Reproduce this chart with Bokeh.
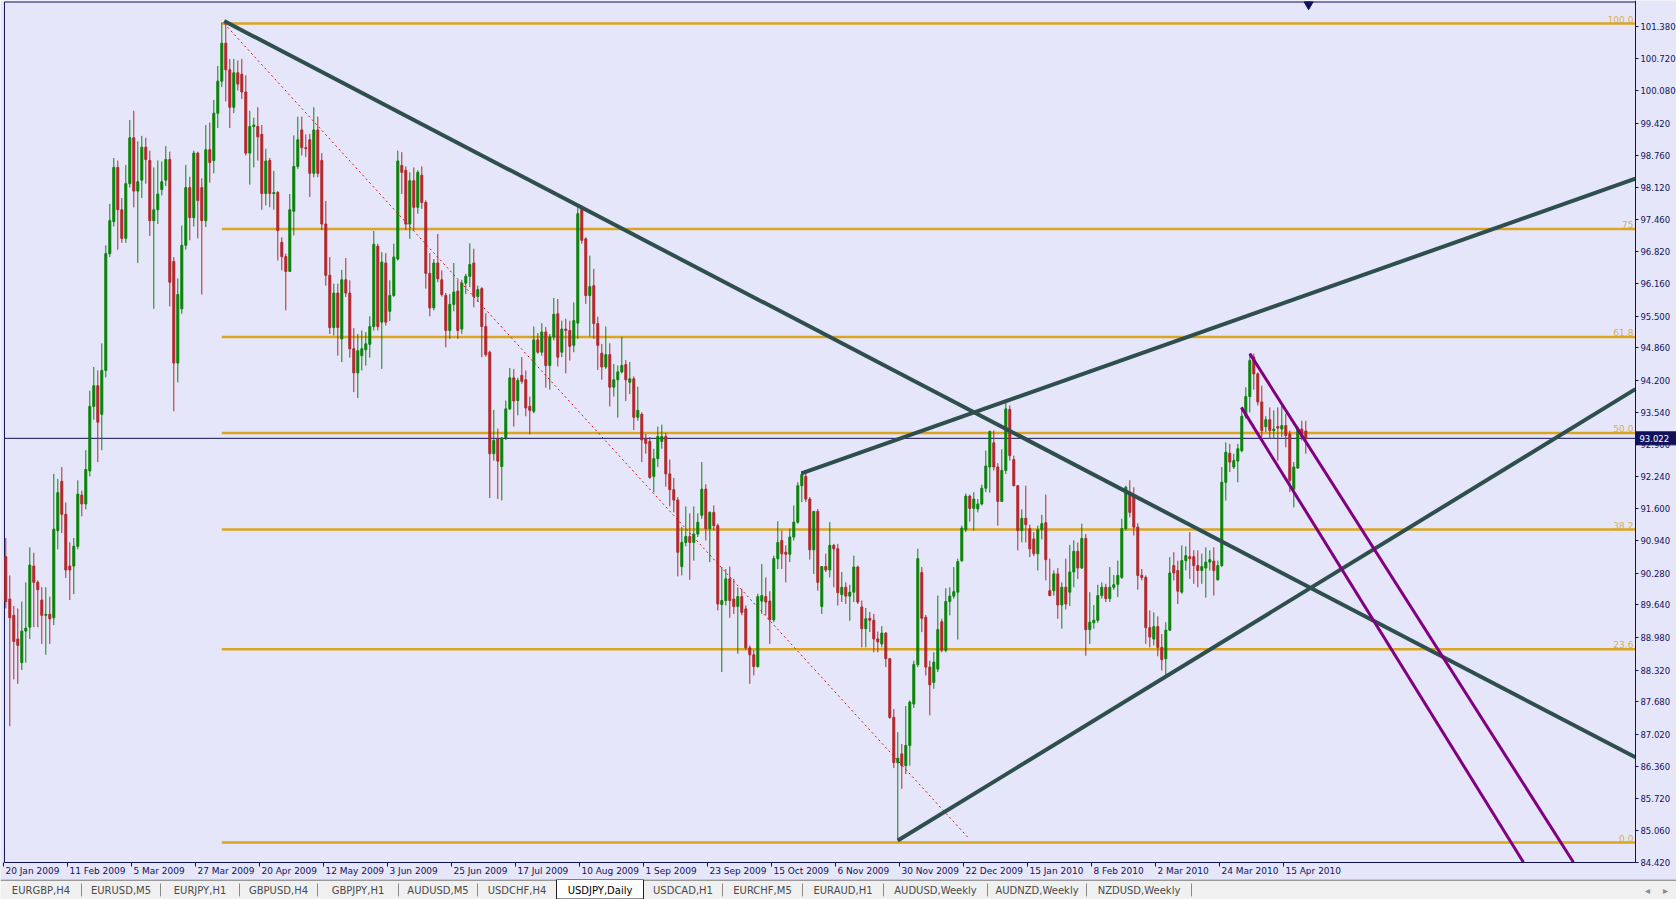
import numpy as np
from bokeh.plotting import figure
from bokeh.models import Range1d, FixedTicker, PrintfTickFormatter, ColumnDataSource
from bokeh.layouts import column
from bokeh.embed import file_html
from bokeh.resources import INLINE
from bokeh.core.properties import value

# ---------------- data (USDJPY, Daily) ----------------
opens = [
    90.62, 89.76, 89.43, 88.95, 88.47, 89.11, 89.19, 90.43, 90.10, 89.74,
    89.43, 89.45, 89.38, 91.15, 92.15, 91.48, 90.43, 90.43, 90.83, 91.87,
    91.69, 92.36, 93.67, 94.09, 93.51, 94.40, 96.77, 97.42, 98.52, 97.66,
    97.08, 98.19, 99.12, 98.04, 98.26, 98.93, 98.66, 97.44, 97.66, 98.07,
    98.26, 98.68, 96.61, 94.55, 95.65, 96.94, 98.11, 97.50, 98.81, 98.11,
    97.44, 98.88, 98.66, 99.62, 100.27, 101.04, 100.50, 99.74, 100.44, 100.41,
    100.05, 98.81, 99.35, 99.35, 99.19, 97.99, 98.66, 97.99, 98.01, 97.00,
    96.71, 96.41, 97.63, 98.54, 99.28, 98.92, 99.08, 98.40, 99.28, 98.66,
    97.37, 96.33, 95.27, 95.97, 95.04, 96.24, 95.97, 94.84, 94.35, 94.70,
    94.82, 94.93, 95.29, 96.92, 95.38, 96.58, 95.60, 95.92, 96.66, 98.56,
    98.46, 97.37, 98.25, 97.71, 98.36, 97.81, 96.37, 95.67, 96.58, 96.24,
    95.92, 95.21, 95.74, 96.01, 95.24, 96.17, 96.31, 96.58, 95.90, 96.06,
    95.29, 94.77, 92.71, 93.01, 92.45, 93.03, 93.62, 94.25, 93.79, 94.30,
    94.21, 93.67, 93.57, 95.02, 94.77, 95.18, 94.50, 95.08, 95.55, 94.77,
    95.24, 95.21, 94.91, 95.36, 97.71, 97.07, 95.92, 96.12, 95.35, 94.75,
    94.47, 94.72, 94.06, 94.21, 94.37, 94.52, 94.16, 94.23, 93.45, 93.51,
    93.01, 92.96, 92.25, 92.61, 92.96, 93.06, 92.30, 91.98, 91.77, 90.42,
    90.91, 91.03, 90.91, 91.08, 91.46, 91.99, 91.19, 91.52, 91.25, 89.65,
    89.73, 90.17, 89.76, 89.61, 89.81, 89.56, 88.77, 88.63, 88.39, 89.72,
    89.81, 89.72, 89.34, 90.58, 90.95, 90.71, 90.67, 91.02, 91.32, 92.06,
    92.25, 91.79, 90.76, 91.54, 89.61, 90.42, 90.35, 90.85, 90.78, 89.85,
    90.00, 89.82, 89.90, 90.41, 89.60, 89.16, 89.37, 89.33, 88.95, 88.85,
    89.07, 88.55, 87.36, 86.44, 86.62, 86.38, 86.79, 87.63, 88.43, 90.30,
    89.39, 88.38, 88.07, 88.34, 89.30, 88.72, 89.71, 89.82, 89.90, 90.54,
    91.17, 91.85, 91.60, 91.59, 91.69, 92.01, 92.44, 92.93, 92.44, 91.74,
    92.37, 93.61, 92.59, 92.06, 91.15, 91.40, 91.19, 90.98, 90.68, 91.17,
    91.31, 89.93, 89.93, 90.27, 89.64, 90.00, 89.90, 90.31, 90.73, 90.39,
    90.99, 89.14, 89.28, 89.33, 89.83, 90.00, 89.77, 90.00, 90.06, 90.20,
    91.19, 91.93, 91.86, 91.22, 90.24, 90.20, 89.18, 88.95, 89.20, 88.78,
    88.55, 89.13, 90.44, 90.34, 89.90, 90.54, 90.62, 90.62, 90.44, 90.34,
    90.39, 90.51, 90.53, 90.15, 90.44, 92.13, 92.72, 92.44, 92.56, 92.77,
    93.47, 93.87, 94.67, 94.33, 93.76, 93.26, 93.40, 93.18, 93.26, 93.21,
    93.28, 93.11, 91.99, 92.42, 93.21, 93.17,
]
highs = [
    91.00, 90.24, 89.62, 89.57, 89.71, 90.10, 90.81, 90.70, 90.14, 90.00,
    90.00, 89.81, 92.30, 92.20, 92.44, 91.72, 90.91, 91.00, 92.17, 91.96,
    92.78, 93.99, 94.47, 94.40, 94.95, 96.94, 97.78, 98.71, 98.66, 97.90,
    98.57, 99.48, 99.67, 99.05, 99.16, 99.12, 98.86, 98.52, 98.66, 98.64,
    98.95, 98.84, 96.70, 96.27, 97.34, 98.57, 98.33, 98.86, 98.84, 98.30,
    99.38, 99.43, 99.89, 100.58, 101.46, 101.44, 100.72, 100.72, 100.69, 100.72,
    100.39, 99.67, 99.53, 99.74, 99.38, 98.90, 98.71, 98.45, 98.04, 97.10,
    96.77, 97.98, 99.17, 99.55, 99.55, 99.19, 99.20, 99.74, 99.55, 98.81,
    97.84, 96.70, 96.16, 96.16, 96.44, 96.68, 96.23, 95.26, 95.14, 95.21,
    95.18, 95.50, 97.23, 96.97, 96.80, 96.78, 96.23, 96.97, 98.86, 98.83,
    98.54, 98.42, 98.52, 98.46, 98.54, 97.85, 96.78, 96.66, 97.17, 96.43,
    95.97, 95.95, 96.58, 96.24, 96.24, 96.36, 96.98, 96.87, 96.12, 96.09,
    95.56, 94.80, 93.60, 93.22, 93.05, 93.79, 94.45, 94.43, 94.25, 94.67,
    94.40, 93.87, 95.29, 95.16, 95.36, 95.28, 95.14, 95.87, 95.85, 95.41,
    95.45, 95.41, 95.78, 97.73, 97.75, 97.10, 96.73, 96.46, 95.49, 94.94,
    95.29, 94.95, 94.53, 94.50, 95.08, 94.61, 94.57, 94.28, 94.07, 93.55,
    93.11, 93.05, 92.81, 93.26, 93.30, 93.13, 92.59, 92.22, 91.83, 91.22,
    91.64, 91.50, 91.64, 91.50, 92.54, 92.09, 91.54, 91.66, 91.29, 90.41,
    90.37, 90.42, 90.17, 90.00, 89.97, 89.63, 88.82, 88.73, 89.87, 90.47,
    90.20, 89.92, 90.64, 91.34, 91.15, 90.85, 91.19, 91.66, 92.13, 92.34,
    92.34, 91.83, 91.54, 91.59, 90.42, 90.68, 91.32, 90.88, 90.88, 90.31,
    90.10, 90.05, 90.64, 90.44, 89.73, 89.58, 89.50, 89.46, 89.10, 89.21,
    89.09, 88.56, 87.53, 87.06, 86.82, 87.59, 87.70, 88.51, 90.78, 90.41,
    89.44, 88.51, 88.68, 89.83, 89.36, 89.98, 90.00, 90.41, 90.58, 91.25,
    91.90, 91.88, 91.93, 91.79, 92.08, 92.77, 93.18, 93.18, 92.52, 92.80,
    93.79, 93.69, 92.67, 92.06, 91.58, 92.06, 91.27, 91.12, 91.25, 91.47,
    91.88, 90.58, 90.34, 90.39, 90.10, 90.58, 90.86, 90.95, 90.91, 91.29,
    91.08, 89.90, 89.64, 90.05, 90.10, 90.07, 90.41, 90.25, 90.54, 91.39,
    92.06, 92.17, 92.03, 91.30, 90.37, 90.24, 89.53, 89.49, 89.41, 89.05,
    89.29, 90.61, 90.71, 90.54, 90.85, 90.83, 91.12, 90.75, 90.75, 90.68,
    90.81, 90.75, 90.81, 90.54, 92.44, 92.94, 92.91, 92.71, 92.91, 93.65,
    94.06, 94.74, 94.74, 94.36, 94.09, 93.47, 93.65, 93.59, 93.65, 93.69,
    93.52, 93.18, 92.54, 93.26, 93.38, 93.38,
]
lows = [
    89.57, 87.18, 88.13, 88.04, 88.32, 88.47, 88.95, 89.19, 89.19, 88.85,
    88.63, 88.85, 89.23, 90.77, 91.10, 90.19, 89.74, 89.86, 90.77, 91.44,
    91.58, 92.25, 93.40, 92.54, 92.78, 94.26, 96.70, 97.32, 96.85, 96.99,
    96.99, 98.11, 97.71, 96.58, 97.90, 98.19, 97.13, 95.65, 97.37, 97.95,
    98.14, 95.70, 93.57, 94.16, 95.55, 96.85, 97.04, 97.32, 97.08, 95.94,
    97.31, 98.21, 98.40, 99.32, 100.15, 99.86, 99.32, 99.62, 100.08, 99.91,
    98.76, 98.17, 98.52, 98.66, 97.66, 97.75, 97.71, 97.66, 96.63, 96.43,
    95.62, 96.40, 97.14, 98.49, 98.76, 98.73, 97.92, 98.32, 98.32, 97.25,
    96.12, 95.14, 95.11, 94.70, 94.57, 95.89, 94.66, 93.96, 93.84, 94.40,
    94.50, 94.66, 95.21, 95.21, 94.43, 95.31, 95.40, 95.89, 96.63, 97.98,
    97.25, 97.07, 97.24, 97.58, 97.68, 96.06, 95.50, 95.62, 96.19, 95.90,
    94.87, 95.04, 95.60, 95.04, 95.14, 95.95, 96.09, 95.68, 95.79, 94.67,
    94.68, 91.81, 92.57, 91.79, 91.76, 92.99, 93.60, 93.26, 93.49, 94.13,
    93.47, 93.10, 93.53, 94.74, 94.70, 94.05, 94.01, 95.01, 94.48, 94.67,
    94.34, 94.60, 94.77, 95.04, 96.97, 95.75, 95.09, 95.04, 94.41, 94.21,
    94.43, 93.67, 93.87, 93.44, 94.34, 93.78, 93.92, 93.19, 93.38, 92.54,
    92.71, 92.20, 91.93, 92.44, 92.81, 92.04, 91.64, 91.52, 90.22, 90.24,
    90.83, 90.15, 90.54, 91.02, 91.39, 90.95, 90.51, 91.15, 89.53, 88.28,
    89.63, 89.38, 89.46, 88.65, 89.43, 88.73, 88.04, 88.21, 88.37, 89.46,
    89.43, 88.85, 89.29, 90.37, 90.37, 90.10, 90.51, 90.95, 91.29, 91.73,
    91.73, 90.56, 90.27, 89.93, 89.46, 90.31, 90.20, 90.00, 89.63, 89.70,
    89.66, 89.32, 89.70, 89.66, 88.78, 88.78, 89.09, 88.68, 88.68, 88.78,
    88.38, 87.33, 86.33, 84.86, 85.91, 86.21, 86.38, 87.55, 88.38, 89.09,
    88.21, 87.40, 87.94, 88.28, 88.68, 88.68, 89.43, 89.77, 88.94, 90.51,
    91.12, 91.33, 91.15, 91.52, 91.66, 91.93, 91.92, 92.37, 91.25, 91.73,
    92.30, 92.57, 92.05, 90.75, 90.91, 90.91, 90.61, 90.63, 90.34, 90.97,
    90.14, 89.82, 89.83, 89.36, 89.16, 89.55, 89.62, 90.00, 90.17, 90.37,
    88.61, 88.85, 89.16, 89.28, 89.77, 89.70, 89.70, 89.95, 89.80, 90.17,
    91.15, 91.42, 91.05, 89.95, 90.14, 88.85, 88.78, 88.82, 88.60, 88.31,
    88.21, 89.11, 90.14, 89.66, 89.87, 90.34, 90.17, 90.07, 90.00, 90.07,
    89.79, 90.34, 89.83, 90.14, 90.41, 91.76, 92.34, 92.40, 92.13, 92.74,
    93.42, 93.55, 94.01, 93.69, 93.05, 93.15, 93.01, 93.01, 92.57, 93.05,
    92.84, 91.93, 91.62, 92.40, 92.98, 92.71,
]
closes = [
    89.71, 89.38, 88.90, 88.82, 89.11, 89.17, 90.45, 90.10, 89.95, 89.43,
    89.45, 89.36, 91.18, 91.92, 91.48, 90.35, 90.35, 90.83, 91.89, 91.69,
    92.39, 93.67, 94.09, 93.35, 94.40, 96.77, 97.44, 98.52, 97.66, 97.08,
    98.19, 99.12, 98.04, 98.23, 98.93, 98.68, 97.44, 97.66, 97.98, 98.23,
    98.68, 96.19, 94.55, 95.94, 96.94, 98.11, 97.50, 98.81, 97.85, 97.44,
    98.88, 98.62, 99.62, 100.27, 101.04, 100.50, 99.74, 100.44, 100.21, 100.05,
    98.81, 99.35, 99.38, 99.14, 97.99, 98.65, 97.99, 98.01, 97.24, 96.71,
    96.41, 97.66, 98.54, 99.08, 98.92, 98.90, 98.40, 99.28, 98.40, 97.37,
    96.33, 95.27, 95.97, 95.27, 96.24, 95.97, 94.84, 94.35, 94.80, 94.84,
    94.94, 95.29, 96.96, 95.29, 96.60, 95.38, 95.92, 96.70, 98.65, 98.42,
    97.37, 98.25, 97.71, 98.42, 97.81, 96.37, 95.67, 96.58, 96.26, 95.94,
    95.21, 95.74, 95.99, 95.21, 96.17, 96.31, 96.55, 95.90, 96.04, 95.29,
    94.72, 92.71, 92.98, 92.56, 93.03, 93.62, 94.25, 93.78, 94.20, 94.18,
    93.64, 93.59, 95.02, 94.77, 95.18, 94.50, 95.08, 95.54, 94.67, 95.24,
    95.21, 94.89, 95.41, 97.58, 97.04, 95.92, 96.10, 95.35, 94.91, 94.47,
    94.72, 94.06, 94.21, 94.37, 94.50, 94.21, 94.23, 93.45, 93.59, 92.99,
    92.92, 92.23, 92.61, 93.06, 93.06, 92.30, 91.98, 91.77, 90.71, 90.91,
    91.03, 90.91, 91.08, 91.32, 91.99, 91.19, 91.52, 91.25, 89.66, 89.73,
    90.17, 89.73, 89.61, 89.81, 89.49, 88.77, 88.63, 88.39, 89.81, 89.83,
    89.70, 89.34, 90.58, 90.91, 90.68, 90.67, 91.02, 91.32, 92.06, 92.29,
    91.79, 90.76, 91.54, 90.10, 90.42, 90.35, 90.85, 90.78, 89.89, 90.00,
    89.82, 89.90, 90.41, 89.70, 89.16, 89.36, 89.33, 88.95, 88.89, 89.07,
    88.55, 87.36, 86.44, 86.53, 86.38, 86.79, 87.67, 88.43, 90.58, 89.37,
    88.38, 88.02, 88.48, 89.14, 88.72, 89.71, 89.82, 89.91, 90.52, 91.20,
    91.85, 91.60, 91.79, 91.69, 92.01, 92.46, 93.16, 92.44, 91.74, 92.37,
    93.62, 92.67, 92.06, 91.15, 91.40, 91.27, 90.78, 90.68, 91.17, 91.29,
    90.56, 89.83, 90.27, 89.64, 90.00, 89.66, 90.31, 90.73, 90.39, 90.99,
    89.14, 89.29, 89.33, 89.83, 90.00, 89.77, 90.00, 90.05, 90.24, 91.19,
    92.03, 91.52, 91.22, 90.24, 90.20, 89.18, 88.99, 89.20, 88.78, 88.53,
    89.13, 90.29, 90.29, 89.92, 90.54, 90.64, 90.58, 90.44, 90.34, 90.42,
    90.51, 90.56, 90.34, 90.44, 92.13, 92.74, 92.54, 92.57, 92.81, 93.47,
    93.87, 94.60, 94.33, 93.76, 93.18, 93.40, 93.18, 93.21, 93.23, 93.28,
    93.08, 92.17, 92.44, 93.23, 93.05, 93.022,
]
assert len(opens) == len(highs) == len(lows) == len(closes) == 326

date_idx = [0, 16, 32, 48, 64, 80, 96, 112, 128, 144, 160, 176, 192, 208, 224, 240, 256, 272, 288, 304, 320]
date_labels = ["20 Jan 2009", "11 Feb 2009", "5 Mar 2009", "27 Mar 2009", "20 Apr 2009",
               "12 May 2009", "3 Jun 2009", "25 Jun 2009", "17 Jul 2009", "10 Aug 2009",
               "1 Sep 2009", "23 Sep 2009", "15 Oct 2009", "6 Nov 2009", "30 Nov 2009",
               "22 Dec 2009", "15 Jan 2010", "8 Feb 2010", "2 Mar 2010", "24 Mar 2010",
               "15 Apr 2010"]
price_ticks = [84.42, 85.06, 85.72, 86.36, 87.02, 87.68, 88.32, 88.98, 89.64, 90.28,
               90.94, 91.60, 92.24, 92.90, 93.54, 94.20, 94.86, 95.50, 96.16, 96.82,
               97.46, 98.12, 98.76, 99.42, 100.08, 100.72, 101.38]

fib_names = ["0.0", "23.6", "38.2", "50.0", "61.8", "75", "100.0"]
fib_prices = [84.82, 88.74, 91.17, 93.13, 95.08, 97.27, 101.44]
fib_start = 54.0

# trend lines (bar index, price)
trend_x0 = [54.6, 198.9, 223.0]
trend_y0 = [101.49, 92.31, 84.86]
trend_x1 = [407.4, 407.4, 407.4]
trend_y1 = [86.55, 98.29, 94.02]
chan_x0 = [311.0, 308.9]
chan_y0 = [94.74, 93.65]
chan_x1 = [391.9, 379.4]
chan_y1 = [84.42, 84.42]
dot_x = [54.6, 240.8]
dot_y = [101.44, 84.90]
last_price = 93.022
shift_marker_x = 325.7

# ---------------- styles / layout ----------------
BG = "#E6E6FA"
NAVY = "#12125c"
UP = "#0a820a"
DN = "#b0282c"
GOLD = "#DAA520"
GOLD_TXT = "#D6AE4E"
SLATE = "#2F4F4F"
PURPLE = "#800080"
FONT = "DejaVu Sans"

W, H, TAB_H = 1676, 879, 20
PX_PER_BAR = 4.0
BAR0_PX = 5.3                      # pixel of bar 0 from the left edge
X0 = -BAR0_PX / PX_PER_BAR         # figure left edge in bar units
XR = X0 + W / PX_PER_BAR           # figure right edge
AXIS_X = 407.4                     # price axis position
LEFT_X = -0.33                     # left chart border
PPU = 1 / 0.020293                 # pixels per price unit
Y_TOP = 101.907
Y_AXIS = 84.41                     # time axis position
Y_BOT = Y_TOP - H / PPU
px_y = 1.0 / PPU
px_x = 1.0 / PX_PER_BAR

p = figure(width=W, height=H, x_range=Range1d(X0, XR), y_range=Range1d(Y_BOT, Y_TOP),
           output_backend="svg", toolbar_location=None, y_axis_location="right",
           background_fill_color=BG, border_fill_color=BG,
           min_border_left=0, min_border_top=0, min_border_bottom=0, min_border_right=0)
p.grid.visible = False
p.outline_line_color = None

ya = p.yaxis[0]
ya.fixed_location = AXIS_X
ya.bounds = (Y_AXIS, Y_TOP)
ya.ticker = FixedTicker(ticks=price_ticks)
ya.formatter = PrintfTickFormatter(format="%.3f")
ya.major_label_text_font = FONT
ya.major_label_text_font_size = "8.5px"
ya.major_label_text_color = NAVY
ya.axis_line_color = NAVY
ya.major_tick_line_color = NAVY
ya.major_tick_in = 0
ya.major_tick_out = 3
ya.minor_tick_line_color = None
ya.major_label_standoff = 2

xa = p.xaxis[0]
xa.fixed_location = Y_AXIS
xa.bounds = (LEFT_X, AXIS_X)
xa.ticker = FixedTicker(ticks=[i - 0.6 for i in date_idx])
xa.major_label_text_color = None
xa.axis_line_color = NAVY
xa.major_tick_line_color = NAVY
xa.major_tick_in = 0
xa.major_tick_out = 4
xa.minor_tick_line_color = None

# date labels, left-aligned on their ticks
p.text(x=[i - 0.6 + 2 * px_x for i in date_idx], y=[Y_AXIS] * len(date_idx), text=date_labels,
       text_align="left", text_baseline="top", y_offset=3, text_font=value(FONT),
       text_font_size="9px", text_color=NAVY)

# chart border (left / top)
p.segment(x0=[LEFT_X, LEFT_X], y0=[Y_AXIS, Y_TOP - 1.5 * px_y],
          x1=[LEFT_X, AXIS_X], y1=[Y_TOP - 1.5 * px_y, Y_TOP - 1.5 * px_y], line_color=NAVY, line_width=1)

# fib levels
p.segment(x0=[fib_start] * len(fib_prices), y0=fib_prices, x1=[AXIS_X] * len(fib_prices), y1=fib_prices,
          line_color=GOLD, line_width=2.5)
p.text(x=[AXIS_X - 2 * px_x] * len(fib_prices), y=fib_prices, text=fib_names, text_align="right",
       text_baseline="bottom", text_font=value(FONT), text_font_size="9px", text_color=GOLD_TXT, y_offset=-1)

# current price line
p.segment(x0=[LEFT_X], y0=[last_price], x1=[AXIS_X], y1=[last_price], line_color=NAVY, line_width=1)

# candles
idx = np.arange(len(closes))
o = np.array(opens); c = np.array(closes); h = np.array(highs); l = np.array(lows)
up = c >= o
dn = ~up
for mask, col in ((up, UP), (dn, DN)):
    src = ColumnDataSource(dict(x=idx[mask], top=np.maximum(o, c)[mask], bottom=np.minimum(o, c)[mask],
                                hi=h[mask], lo=l[mask]))
    p.segment(x0="x", y0="hi", x1="x", y1="lo", source=src, line_color=col, line_width=1)
    p.vbar(x="x", width=0.5, top="top", bottom="bottom", source=src, fill_color=col,
           line_color=col, line_width=1)

# fib diagonal
p.line(dot_x, dot_y, line_color="#e01010", line_width=1, line_dash="2 3")
# trend lines
p.segment(x0=trend_x0, y0=trend_y0, x1=trend_x1, y1=trend_y1, line_color=SLATE, line_width=4)
# channel
p.segment(x0=chan_x0, y0=chan_y0, x1=chan_x1, y1=chan_y1, line_color=PURPLE, line_width=3)

# chart-shift marker at the top
p.scatter(x=[shift_marker_x], y=[Y_TOP - 4 * px_y], marker="inverted_triangle", size=9,
          fill_color=NAVY, line_color=NAVY)

# current price box on the axis
box = p.quad(left=[AXIS_X + 0.5 * px_x], right=[XR], bottom=[last_price - 6.5 * px_y],
             top=[last_price + 6.5 * px_y], fill_color=NAVY, line_color=NAVY)
box.level = "overlay"
boxt = p.text(x=[AXIS_X + 4 * px_x], y=[last_price], text=[f"{last_price:.3f}"], text_align="left",
              text_baseline="middle", text_font=value(FONT), text_font_size="8.5px", text_color="white")
boxt.level = "overlay"

# ---------------- tab strip ----------------
tab_names = ["EURGBP,H4", "EURUSD,M5", "EURJPY,H1", "GBPUSD,H4", "GBPJPY,H1", "AUDUSD,M5",
             "USDCHF,H4", "USDJPY,Daily", "USDCAD,H1", "EURCHF,M5", "EURAUD,H1",
             "AUDUSD,Weekly", "AUDNZD,Weekly", "NZDUSD,Weekly"]
tab_edges = [0, 81, 160, 239, 317, 398, 477, 556, 643, 722, 802, 883, 987, 1086, 1191]
active = 7

t = figure(width=W, height=TAB_H, x_range=Range1d(0, W), y_range=Range1d(0, TAB_H),
           output_backend="svg", toolbar_location=None, min_border=0,
           background_fill_color="#F0F0F0", border_fill_color="#F0F0F0")
t.axis.visible = False
t.grid.visible = False
t.outline_line_color = None
t.segment(x0=[0], y0=[TAB_H - 0.5], x1=[W], y1=[TAB_H - 0.5], line_color="#404040", line_width=1)
cx = [(tab_edges[k] + tab_edges[k + 1]) / 2 for k in range(len(tab_names))]
t.quad(left=[tab_edges[active]], right=[tab_edges[active + 1]], bottom=[0.5], top=[TAB_H],
       fill_color="white", line_color="#202020", line_width=1)
seps = [e for k, e in enumerate(tab_edges[1:], start=1) if k not in (active, active + 1)]
t.segment(x0=seps, y0=[3] * len(seps), x1=seps, y1=[16] * len(seps), line_color="#8a8a8a", line_width=1)
cols = ["#000000" if k == active else "#4a4a4a" for k in range(len(tab_names))]
t.text(x=cx, y=[9.5] * len(cx), text=tab_names, text_align="center", text_baseline="middle",
       text_font=value(FONT), text_font_size="10px", text_color=cols)
t.text(x=[1647, 1665], y=[9.5, 9.5], text=["\u25c2", "\u25b8"], text_align="center",
       text_baseline="middle", text_font=value(FONT), text_font_size="10px", text_color="#8a8a8a")

open("out.html", "w").write(file_html(column(p, t), INLINE))
